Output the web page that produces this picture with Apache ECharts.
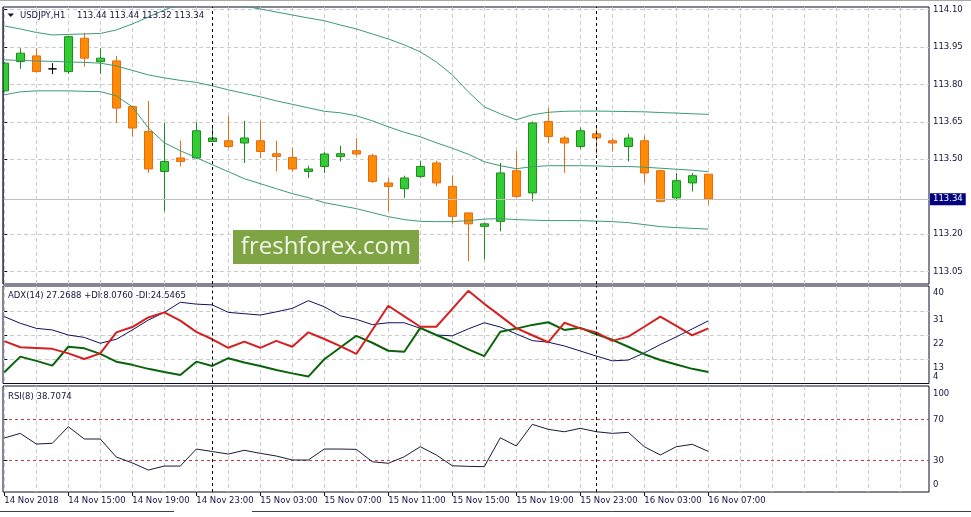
<!DOCTYPE html>
<html><head><meta charset="utf-8">
<script src="https://cdn.jsdelivr.net/npm/echarts@6/dist/echarts.min.js"></script>
<style>html,body{margin:0;padding:0;background:#fff}#c{width:971px;height:517px}</style>
</head><body><div id="c"></div>
<script>
// ---------- data ----------
const symbol = 'USDJPY';
const timeframe = 'H1';
const timeLabels = ['14 Nov 2018','14 Nov 15:00','14 Nov 19:00','14 Nov 23:00','15 Nov 03:00','15 Nov 07:00','15 Nov 11:00','15 Nov 15:00','15 Nov 19:00','15 Nov 23:00','16 Nov 03:00','16 Nov 07:00'];
const timeLabelBars = [0,4,8,12,16,20,24,28,32,36,40,44];
const daySeparatorBars = [13, 37];

const open  = [113.774,113.891,113.914,113.862,113.851,113.985,113.891,113.894,113.711,113.611,113.451,113.505,113.505,113.571,113.574,113.565,113.574,113.522,113.507,113.451,113.471,113.511,113.534,113.514,113.405,113.382,113.431,113.485,113.391,113.285,113.231,113.251,113.454,113.365,113.651,113.585,113.551,113.602,113.574,113.551,113.574,113.454,113.345,113.405,113.44];
const close = [113.885,113.925,113.851,113.862,113.991,113.905,113.905,113.705,113.625,113.461,113.491,113.491,113.614,113.585,113.551,113.585,113.531,113.511,113.461,113.461,113.521,113.522,113.521,113.411,113.391,113.425,113.471,113.405,113.271,113.241,113.241,113.445,113.351,113.645,113.591,113.565,113.614,113.585,113.565,113.585,113.445,113.331,113.414,113.434,113.34];
const low   = [113.77,113.862,113.851,113.841,113.842,113.871,113.842,113.645,113.591,113.445,113.291,113.471,113.501,113.571,113.545,113.485,113.505,113.451,113.451,113.425,113.445,113.491,113.511,113.405,113.291,113.345,113.425,113.391,113.241,113.091,113.098,113.211,113.345,113.331,113.565,113.445,113.542,113.521,113.531,113.491,113.405,113.331,113.334,113.371,113.32];
const high  = [113.89,113.945,113.945,113.885,113.994,114.007,113.945,113.914,113.714,113.734,113.645,113.575,113.647,113.631,113.674,113.654,113.654,113.574,113.547,113.474,113.53,113.554,113.585,113.522,113.425,113.434,113.494,113.494,113.434,113.286,113.247,113.485,113.534,113.651,113.705,113.594,113.627,113.634,113.585,113.602,113.594,113.458,113.445,113.445,113.44];

const bbUpper  = [114.034,114.022,114.008,113.998,114.000,114.002,114.004,114.018,114.042,114.070,114.098,114.122,114.142,114.138,114.126,114.113,114.102,114.090,114.078,114.066,114.055,114.038,114.022,114.002,113.982,113.958,113.930,113.890,113.838,113.770,113.710,113.682,113.658,113.678,113.688,113.692,113.693,113.693,113.692,113.691,113.690,113.687,113.685,113.682,113.680];
const bbMiddle = [113.898,113.896,113.894,113.892,113.890,113.888,113.885,113.874,113.856,113.838,113.826,113.816,113.808,113.794,113.778,113.764,113.750,113.734,113.720,113.706,113.692,113.686,113.674,113.654,113.630,113.608,113.590,113.566,113.544,113.520,113.490,113.474,113.462,113.470,113.474,113.474,113.474,113.473,113.471,113.471,113.468,113.464,113.460,113.456,113.450];
const bbLower  = [113.758,113.770,113.774,113.774,113.774,113.772,113.771,113.754,113.710,113.626,113.566,113.534,113.506,113.478,113.450,113.422,113.402,113.382,113.362,113.346,113.326,113.314,113.302,113.286,113.270,113.258,113.251,113.250,113.250,113.254,113.260,113.262,113.258,113.256,113.254,113.254,113.254,113.252,113.250,113.246,113.238,113.230,113.226,113.223,113.220];

const adx     = [28.9,26.4,24.5,23.9,22.0,21.1,18.9,20.4,23.9,27.6,30.5,34.3,33.6,33.3,30.5,30.0,29.5,30.7,32.0,34.9,32.6,29.2,27.9,25.9,26.6,26.6,24.5,22.0,21.7,24.3,26.6,25.0,22.4,19.9,19.3,17.9,16.0,14.1,12.3,12.6,15.3,18.4,21.3,24.3,27.3];
const plusDI  = [8.0,13.9,12.3,10.5,17.6,17.0,14.9,12.0,10.8,9.3,8.1,7.0,12.0,10.4,13.3,11.7,10.4,8.9,7.6,6.4,12.9,17.3,21.7,19.1,16.1,15.7,24.7,22.0,19.4,16.6,14.1,23.2,24.4,25.8,26.8,23.9,24.7,22.3,20.2,17.6,14.8,12.6,10.9,9.3,8.1];
const minusDI = [19.7,17.4,17.1,16.8,15.1,13.0,15.1,23.0,25.0,28.6,30.5,27.4,23.2,20.4,17.2,19.5,17.2,19.8,17.6,23.0,20.5,17.8,14.9,23.9,33.0,29.0,25.1,25.1,31.8,38.6,33.7,29.2,24.6,21.9,19.3,26.6,24.5,23.0,19.8,21.4,25.1,28.9,25.4,21.9,24.5];
const rsi     = [51.8,56.3,45.9,46.6,62.8,50.8,50.8,33.2,27.5,20.5,24.4,24.4,41.0,38.6,36.1,39.8,36.8,34.2,30.3,30.3,41.0,41.0,40.7,28.6,27.1,33.5,43.3,35.2,24.7,24.1,23.8,52.0,44.0,65.1,60.2,57.9,61.2,57.9,56.3,57.3,43.3,35.2,43.3,45.6,38.7];

const priceTicks = [113.05,113.20,113.50,113.65,113.80,113.95,114.10];
const adxGridTicks = [13,22,31];
const adxLabels = [4,13,22,31,40];
const rsiLevels = [30,70];
const rsiLabels = [0,30,70,100];
const adxReadout = 'ADX(14) 27.2688 +DI:8.0760 -DI:24.5465';
const rsiReadout = 'RSI(8) 38.7074';

// ---------- chart ----------
const FONT = 'DejaVu Sans', FS = 8.5, TXT = '#14143c', GRIDC = '#cbcbcb', FRAME = '#0b0b2e';
const BB = '#3c9a78';
const X_MIN = -0.08125, X_MAX = 57.79375;
const gridBars = []; for (let b = 0; b <= 56; b += 2) gridBars.push(b);
const toXY = arr => arr.map((v, i) => [i, v]);
const candleData = open.map((o, i) => [i, o, close[i], low[i], high[i]]);
const last = open.length - 1;
const sepLines = daySeparatorBars.map(b => ({xAxis: b, lineStyle: {color: '#000', type: [3, 3], width: 1}}));
const lbl = {color: TXT, fontFamily: FONT, fontSize: FS};

const mkX = gi => ({type: 'value', gridIndex: gi, min: X_MIN, max: X_MAX,
  axisLine: {show: false}, axisTick: {show: false, customValues: gridBars}, axisLabel: {show: false},
  splitLine: {show: true, lineStyle: {color: GRIDC, type: [4, 3], width: 1}}});

const gridBase = {left: 3, width: 926, show: true, borderColor: FRAME, borderWidth: 1, backgroundColor: 'transparent'};

const option = {
  animation: false,
  backgroundColor: '#ffffff',
  grid: [
    Object.assign({top: 7, height: 277}, gridBase),
    Object.assign({top: 286, height: 97.5}, gridBase),
    Object.assign({top: 386, height: 106}, gridBase)
  ],
  xAxis: [mkX(0), mkX(1), mkX(2), {
    type: 'value', gridIndex: 2, position: 'bottom', min: X_MIN, max: X_MAX,
    axisLine: {show: false},
    axisTick: {show: true, customValues: timeLabelBars, length: 4, lineStyle: {color: FRAME}},
    axisLabel: Object.assign({show: true, customValues: timeLabelBars, align: 'left', margin: 4,
      formatter: v => { const j = timeLabelBars.indexOf(Math.round(v)); return j >= 0 ? timeLabels[j] : ''; }}, lbl),
    splitLine: {show: false}
  }],
  yAxis: [
    {type: 'value', gridIndex: 0, position: 'right', min: 113.0, max: 114.11,
      axisLine: {show: false},
      axisTick: {show: true, customValues: priceTicks, length: 3, lineStyle: {color: FRAME}},
      axisLabel: Object.assign({customValues: priceTicks, margin: 4, formatter: v => v.toFixed(2)}, lbl),
      splitLine: {show: true, lineStyle: {color: GRIDC, type: [4, 3]}}},
    {type: 'value', gridIndex: 1, position: 'right', min: 3.8, max: 40.4,
      axisLine: {show: false},
      axisTick: {show: true, customValues: adxGridTicks, length: 3, lineStyle: {color: FRAME}},
      axisLabel: Object.assign({customValues: adxLabels, margin: 4,
        formatter: v => { const r = Math.round(v); return r === 4 ? '{u|' + r + '}' : (r === 40 ? '{t|' + r + '}' : '{d|' + r + '}'); },
        rich: {d: Object.assign({padding: [17, 0, 0, 0]}, lbl), t: Object.assign({padding: [12, 0, 0, 0]}, lbl), u: Object.assign({padding: [0, 0, 12, 0]}, lbl)}}, lbl),
      splitLine: {show: true, lineStyle: {color: GRIDC, type: [4, 3]}}},
    {type: 'value', gridIndex: 2, position: 'right', min: -0.9, max: 102.5,
      axisLine: {show: false},
      axisTick: {show: true, customValues: rsiLevels, length: 3, lineStyle: {color: FRAME}},
      axisLabel: Object.assign({customValues: rsiLabels, margin: 4,
        formatter: v => { const r = Math.round(v); return r === 100 ? '{t|' + r + '}' : (r === 0 ? '{u|' + r + '}' : '{m|' + r + '}'); },
        rich: {t: Object.assign({padding: [10, 0, 0, 0]}, lbl), u: Object.assign({padding: [0, 0, 12, 0]}, lbl), m: Object.assign({}, lbl)}}, lbl),
      splitLine: {show: true, lineStyle: {color: '#c83a3a', type: [3, 3], width: 1}}}
  ],
  series: [
    {type: 'line', xAxisIndex: 0, yAxisIndex: 0, data: toXY(bbUpper), symbol: 'none', lineStyle: {color: BB, width: 1}, silent: true},
    {type: 'line', xAxisIndex: 0, yAxisIndex: 0, data: toXY(bbMiddle), symbol: 'none', lineStyle: {color: BB, width: 1}, silent: true},
    {type: 'line', xAxisIndex: 0, yAxisIndex: 0, data: toXY(bbLower), symbol: 'none', lineStyle: {color: BB, width: 1}, silent: true},
    {type: 'candlestick', xAxisIndex: 0, yAxisIndex: 0, data: candleData, barWidth: 9, clip: true,
      itemStyle: {color: '#32cd32', color0: '#ff8c00', borderColor: '#1f8a1f', borderColor0: '#e06c1c', borderColorDoji: '#000000', borderWidth: 1},
      markLine: {silent: true, symbol: ['none', 'none'], label: {show: false},
        data: sepLines.concat([{yAxis: close[last], lineStyle: {color: '#c0c0c0', type: 'solid', width: 1},
          label: {show: true, position: 'end', distance: 1, formatter: p => Number(p.value).toFixed(2),
            backgroundColor: '#000080', color: '#ffffff', padding: [2, 3, 1, 3], fontFamily: FONT, fontSize: FS}}])}},
    {type: 'line', xAxisIndex: 1, yAxisIndex: 1, data: toXY(adx), symbol: 'none', lineStyle: {color: '#101060', width: 1},
      markLine: {silent: true, symbol: ['none', 'none'], label: {show: false}, data: sepLines}},
    {type: 'line', xAxisIndex: 1, yAxisIndex: 1, data: toXY(plusDI), symbol: 'none', lineStyle: {color: '#0b640b', width: 2}},
    {type: 'line', xAxisIndex: 1, yAxisIndex: 1, data: toXY(minusDI), symbol: 'none', lineStyle: {color: '#d42020', width: 2}},
    {type: 'line', xAxisIndex: 2, yAxisIndex: 2, data: toXY(rsi), symbol: 'none', lineStyle: {color: '#1a1a3a', width: 1},
      markLine: {silent: true, symbol: ['none', 'none'], label: {show: false}, data: sepLines}}
  ],
  graphic: [
    {type: 'rect', shape: {x: 0, y: 7, width: 2.5, height: 278}, style: {fill: '#ffffff'}, z: 60},
    {type: 'line', shape: {x1: 3, y1: 7, x2: 3, y2: 284}, style: {stroke: FRAME, lineWidth: 1}, z: 61},
    {type: 'line', shape: {x1: 0, y1: 0.5, x2: 971, y2: 0.5}, style: {stroke: '#a8a8a8', lineWidth: 1}},
    {type: 'polygon', shape: {points: [[7.5, 13.5], [14, 13.5], [10.75, 17]]}, style: {fill: '#14143c'}, z: 50},
    {type: 'text', x: 20, y: 15.5, style: {text: symbol + ',' + timeframe, fill: TXT, font: FS + 'px "DejaVu Sans"', verticalAlign: 'middle'}, z: 50},
    {type: 'text', x: 77, y: 15.5, style: {text: [open[last], high[last], low[last], close[last]].map(v => v.toFixed(2)).join(' '), fill: TXT, font: FS + 'px "DejaVu Sans"', verticalAlign: 'middle'}, z: 50},
    {type: 'text', x: 8, y: 295.5, style: {text: adxReadout, fill: TXT, font: FS + 'px "DejaVu Sans"', verticalAlign: 'middle'}, z: 50},
    {type: 'text', x: 8, y: 396.5, style: {text: rsiReadout, fill: TXT, font: FS + 'px "DejaVu Sans"', verticalAlign: 'middle'}, z: 50},
    {type: 'rect', shape: {x: 233, y: 230, width: 186, height: 34}, style: {fill: '#7ea443'}, z: 40},
    {type: 'text', x: 326, y: 247.5, style: {text: 'freshforex.com', fill: '#f2f6e8', font: '24px "Open Sans"', align: 'center', verticalAlign: 'middle'}, z: 41},
    {type: 'line', shape: {x1: 0, y1: 511.5, x2: 174, y2: 511.5}, style: {stroke: '#404040', lineWidth: 1}},
    {type: 'line', shape: {x1: 252, y1: 511.5, x2: 971, y2: 511.5}, style: {stroke: '#404040', lineWidth: 1}}
  ]
};
const chart = echarts.init(document.getElementById('c'), null, {renderer: 'canvas'});
chart.setOption(option);
</script>
</body></html>
